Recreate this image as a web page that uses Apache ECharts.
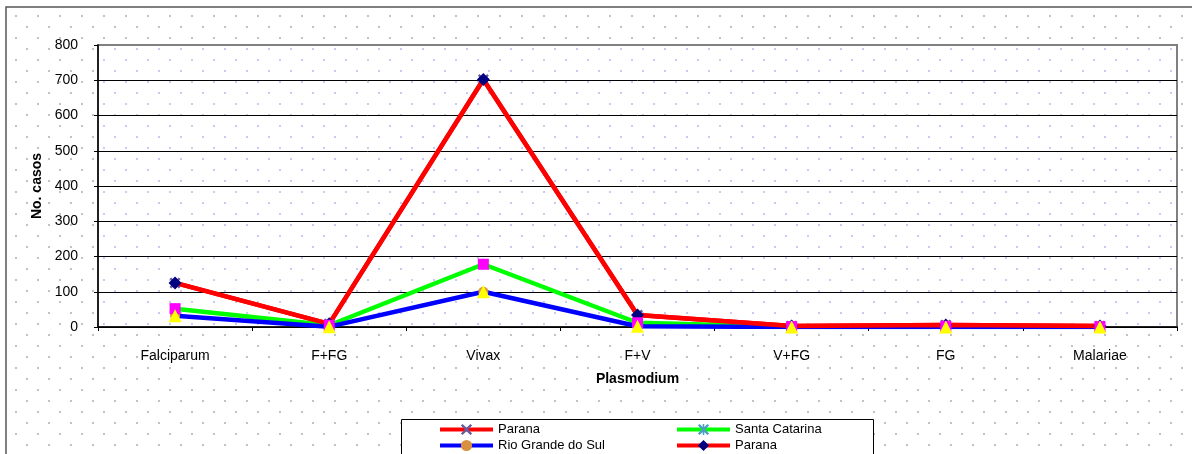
<!DOCTYPE html>
<html>
<head>
<meta charset="utf-8">
<script src="https://cdn.jsdelivr.net/npm/echarts@6/dist/echarts.min.js"></script>
<style>
  html, body { margin: 0; padding: 0; background: #fff; }
  #chart { width: 1192px; height: 454px; }
</style>
</head>
<body>
<div id="chart"></div>
<script>
// Plasmodium species and case counts per state
const categories = ['Falciparum', 'F+FG', 'Vivax', 'F+V', 'V+FG', 'FG', 'Malariae'];
const parana = [125, 9, 702, 34, 3, 6, 3];
const santaCatarina = [52, 5, 178, 12, 1, 2, 1];
const rioGrandeDoSul = [32, 1, 100, 2, 0, 0, 0];
const yTicks = { min: 0, max: 800, interval: 100 };

// Small dotted tile used as a fill pattern
function dotTile(color) {
  const c = document.createElement('canvas');
  c.width = 22; c.height = 22;
  const g = c.getContext('2d');
  g.fillStyle = color;
  g.fillRect(4, 4, 2, 2);
  g.fillRect(15, 15, 2, 2);
  return { image: c, repeat: 'repeat' };
}

const crossPath = 'path://M0,1.5 L1.5,0 L5,3.5 L8.5,0 L10,1.5 L6.5,5 L10,8.5 L8.5,10 L5,6.5 L1.5,10 L0,8.5 L3.5,5 Z';
const starPath = 'path://M0,1.5 L1.5,0 L5,3.5 L8.5,0 L10,1.5 L6.5,5 L10,8.5 L8.5,10 L5,6.5 L1.5,10 L0,8.5 L3.5,5 Z M4.3,0 L5.7,0 L5.7,10 L4.3,10 Z';

const chart = echarts.init(document.getElementById('chart'), null, { renderer: 'canvas' });

const lineSeries = (name, data, color, symbol, symbolColor, size, z) => ({
  name: name,
  type: 'line',
  data: data,
  symbol: symbol,
  symbolSize: size,
  z: z,
  lineStyle: { color: color, width: 4.5 },
  itemStyle: { color: symbolColor },
  emphasis: { disabled: true },
  animation: false
});

const markerSeries = (name, data, symbol, color, size, z) => ({
  name: name,
  type: 'line',
  data: data,
  symbol: symbol,
  symbolSize: size,
  z: z,
  lineStyle: { width: 0, opacity: 0 },
  itemStyle: { color: color },
  emphasis: { disabled: true },
  animation: false
});

const legendBase = {
  orient: 'vertical',
  top: 423,
  padding: 0,
  itemWidth: 53, itemHeight: 14, itemGap: 3,
  lineStyle: { width: 4 },
  textStyle: { fontSize: 13, color: '#000' },
  selectedMode: false
};

chart.setOption({
  backgroundColor: '#ffffff',
  animation: false,
  textStyle: { fontFamily: 'Liberation Sans, Arial, sans-serif' },
  graphic: [
    {
      type: 'rect', z: -10, silent: true,
      shape: { x: 6, y: 7, width: 1200, height: 460 },
      style: { fill: dotTile('#c2c2c2'), stroke: '#555555', lineWidth: 1.5 }
    },
    {
      type: 'rect', z: 3, silent: true,
      shape: { x: 401.5, y: 419.5, width: 472, height: 50 },
      style: { fill: '#ffffff', stroke: '#000000', lineWidth: 1 }
    }
  ],
  grid: {
    left: 98, right: 15, top: 45, bottom: 127,
    show: true,
    backgroundColor: dotTile('#c9c9f2'),
    borderColor: '#808080',
    borderWidth: 2
  },
  legend: [
    Object.assign({ data: ['Parana', 'Rio Grande do Sul'], left: 438 }, legendBase),
    Object.assign({
      data: ['Santa Catarina', 'Parana (2)'], left: 675,
      formatter: n => n.replace(' (2)', '')
    }, legendBase)
  ],
  xAxis: {
    type: 'category',
    data: categories,
    boundaryGap: true,
    name: 'Plasmodium',
    nameLocation: 'middle',
    nameGap: 45,
    nameTextStyle: { fontSize: 14, fontWeight: 'bold', color: '#000' },
    axisLine: { show: true, lineStyle: { color: '#000', width: 1.5 } },
    axisTick: { show: true, alignWithLabel: false, length: 4, inside: false, lineStyle: { color: '#000' } },
    axisLabel: { fontSize: 14, color: '#000', margin: 22 },
    splitLine: { show: false }
  },
  yAxis: {
    type: 'value',
    min: yTicks.min, max: yTicks.max, interval: yTicks.interval,
    name: 'No. casos',
    nameLocation: 'middle',
    nameGap: 49,
    nameRotate: 90,
    nameTextStyle: { fontSize: 14, fontWeight: 'bold', color: '#000' },
    axisLine: { show: true, lineStyle: { color: '#000', width: 1.5 } },
    axisTick: { show: true, length: 4, lineStyle: { color: '#000' } },
    axisLabel: { fontSize: 14, color: '#000', margin: 20 },
    splitLine: { show: true, showMaxLine: false, lineStyle: { color: '#000', width: 1 } }
  },
  series: [
    lineSeries('Parana', parana, '#ff0000', crossPath, '#6a5a9a', 11, 2),
    lineSeries('Santa Catarina', santaCatarina, '#00ff00', starPath, '#4d9fc0', 11, 3),
    lineSeries('Rio Grande do Sul', rioGrandeDoSul, '#0000ff', 'circle', '#d8913f', 10, 4),
    lineSeries('Parana (2)', parana, '#ff0000', 'diamond', '#000080', 13, 5),
    markerSeries('Santa Catarina ', santaCatarina, 'rect', '#ff00ff', 11, 6),
    markerSeries('Rio Grande do Sul ', rioGrandeDoSul, 'triangle', '#ffff00', 13, 7)
  ]
});
</script>
</body>
</html>
